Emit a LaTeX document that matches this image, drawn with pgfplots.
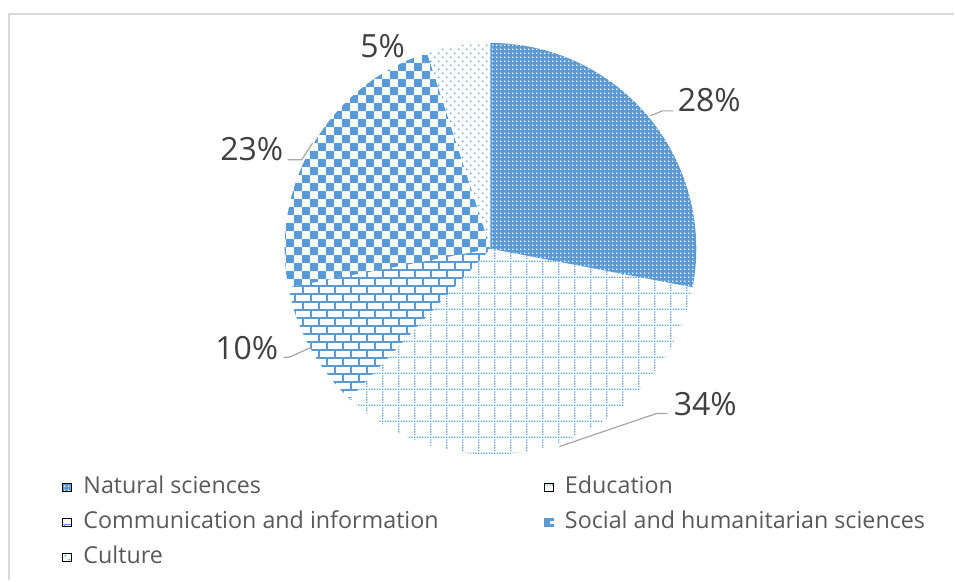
\documentclass[border=0pt]{standalone}
\usepackage{fontspec}
\setmainfont{Open Sans}
\usepackage{pgfplots}
\pgfplotsset{compat=1.18}
\usepackage{pgfplotstable}
\usetikzlibrary{patterns}

\definecolor{pblue}{HTML}{5B9BD5}
\definecolor{txt}{HTML}{404040}
\definecolor{legtxt}{HTML}{595959}
\definecolor{lead}{HTML}{A6A6A6}
\definecolor{frame}{HTML}{D9D9D9}

% --- patterns ---
\pgfdeclarepatternformonly{xwhitedots}{\pgfqpoint{0pt}{0pt}}{\pgfqpoint{4.3pt}{4.3pt}}{\pgfqpoint{4.3pt}{4.3pt}}{%
  \pgfpathrectangle{\pgfqpoint{1.2pt}{1.2pt}}{\pgfqpoint{1.6pt}{1.6pt}}\pgfusepath{fill}}
\pgfdeclarepatternformonly{xdotgrid}{\pgfqpoint{0pt}{0pt}}{\pgfqpoint{16pt}{16pt}}{\pgfqpoint{16pt}{16pt}}{%
  \foreach \k in {0,...,5}{%
    \pgfpathrectangle{\pgfpoint{\k*2.667pt+0.2pt}{0.2pt}}{\pgfqpoint{1.3pt}{1.3pt}}%
    \pgfpathrectangle{\pgfpoint{0.2pt}{\k*2.667pt+0.2pt}}{\pgfqpoint{1.3pt}{1.3pt}}%
  }\pgfusepath{fill}}
\pgfdeclarepatternformonly{xbricks}{\pgfqpoint{0pt}{0pt}}{\pgfqpoint{16pt}{16pt}}{\pgfqpoint{16pt}{16pt}}{%
  \pgfsetlinewidth{1.6pt}%
  \pgfpathmoveto{\pgfqpoint{0pt}{1pt}}\pgfpathlineto{\pgfqpoint{16pt}{1pt}}%
  \pgfpathmoveto{\pgfqpoint{0pt}{9pt}}\pgfpathlineto{\pgfqpoint{16pt}{9pt}}%
  \pgfpathmoveto{\pgfqpoint{1pt}{1pt}}\pgfpathlineto{\pgfqpoint{1pt}{9pt}}%
  \pgfpathmoveto{\pgfqpoint{9pt}{9pt}}\pgfpathlineto{\pgfqpoint{9pt}{16pt}}%
  \pgfusepath{stroke}}
\pgfdeclarepatternformonly{xchecker}{\pgfqpoint{0pt}{0pt}}{\pgfqpoint{16pt}{16pt}}{\pgfqpoint{16pt}{16pt}}{%
  \pgfpathrectangle{\pgfqpoint{0pt}{0pt}}{\pgfqpoint{8pt}{8pt}}%
  \pgfpathrectangle{\pgfqpoint{8pt}{8pt}}{\pgfqpoint{8pt}{8pt}}\pgfusepath{fill}}
\pgfdeclarepatternformonly{xsparsedots}{\pgfqpoint{0pt}{0pt}}{\pgfqpoint{8pt}{8pt}}{\pgfqpoint{8pt}{8pt}}{%
  \pgfpathrectangle{\pgfqpoint{1pt}{1pt}}{\pgfqpoint{1.5pt}{1.5pt}}%
  \pgfpathrectangle{\pgfqpoint{5pt}{5pt}}{\pgfqpoint{1.5pt}{1.5pt}}\pgfusepath{fill}}

% --- data ---
\pgfplotstableread{
name value
Natural 28
Education 34
Communication 10
Social 23
Culture 5
}\piedata

\pgfplotstablegetelem{0}{value}\of\piedata \let\vA\pgfplotsretval
\pgfplotstablegetelem{1}{value}\of\piedata \let\vB\pgfplotsretval
\pgfplotstablegetelem{2}{value}\of\piedata \let\vC\pgfplotsretval
\pgfplotstablegetelem{3}{value}\of\piedata \let\vD\pgfplotsretval
\pgfplotstablegetelem{4}{value}\of\piedata \let\vE\pgfplotsretval
\pgfmathsetmacro\aA{90}
\pgfmathsetmacro\aB{\aA-3.6*\vA}
\pgfmathsetmacro\aC{\aB-3.6*\vB}
\pgfmathsetmacro\aD{\aC-3.6*\vC}
\pgfmathsetmacro\aE{\aD-3.6*\vD}
\pgfmathsetmacro\aF{\aE-3.6*\vE}

\def\cx{491}\def\cy{332}\def\R{206bp}
\newcommand\slice[2]{(axis cs:\cx,\cy) -- ++(#1:\R) arc[start angle=#1, end angle=#2, radius=\R] -- cycle}

\begin{document}
\begin{tikzpicture}
\begin{axis}[
  scale only axis, width=955bp, height=581bp,
  xmin=0, xmax=955, ymin=0, ymax=581,
  hide axis, clip=false,
  legend columns=2,
  legend cell align=left,
  legend style={at={(axis cs:59,106)}, anchor=north west, draw=none, fill=none,
    font=\fontsize{23.3bp}{28bp}\selectfont, text=legtxt,
    row sep=13bp,
    nodes={inner sep=0pt, text height=17bp, text depth=5bp},
    /tikz/every odd column/.append style={column sep=12bp},
    /tikz/every even column/.append style={column sep=105bp}},
]
% page extent
\path (axis cs:0,0) (axis cs:955,581);
% frame
\draw[frame, line width=2bp] (axis cs:9,0) -- (axis cs:9,567) -- (axis cs:955,567);

% slices
\fill[pblue] \slice{\aA}{\aB};
\fill[pattern=xwhitedots, pattern color=white] \slice{\aA}{\aB};
\fill[pattern=xdotgrid, pattern color=pblue] \slice{\aB}{\aC};
\fill[pattern=xbricks, pattern color=pblue] \slice{\aC}{\aD};
\fill[pattern=xchecker, pattern color=pblue] \slice{\aD}{\aE};
\fill[pattern=xsparsedots, pattern color=pblue] \slice{\aE}{\aF};

% leader lines
\draw[lead, line width=1.2bp] (axis cs:651,465) -- (axis cs:663,470) -- (axis cs:674,470);
\draw[lead, line width=1.2bp] (axis cs:560,134) -- (axis cs:657,167) -- (axis cs:668,167);
\draw[lead, line width=1.2bp] (axis cs:284,223) -- (axis cs:291,224) -- (axis cs:311,233);
\draw[lead, line width=1.2bp] (axis cs:288,421) -- (axis cs:302,421) -- (axis cs:313,438);

% labels
\begin{scope}[every node/.style={text=txt, font=\fontsize{32bp}{38bp}\selectfont, inner sep=0pt}]
\node at (axis cs:710,481) {28\%};
\node at (axis cs:706,176) {34\%};
\node at (axis cs:247,233) {10\%};
\node at (axis cs:252,432) {23\%};
\node at (axis cs:383,535) {5\%};
\end{scope}

% legend
\addlegendimage{legend image code/.code={\fill[pblue] (0bp,-4bp) rectangle (9bp,4bp);\fill[pattern=xwhitedots,pattern color=white] (0bp,-4bp) rectangle (9bp,4bp);}}
\addlegendentry{Natural sciences}
\addlegendimage{legend image code/.code={\fill[pattern=xdotgrid,pattern color=pblue] (0bp,-4bp) rectangle (9bp,4bp);}}
\addlegendentry{Education}
\addlegendimage{legend image code/.code={\fill[pattern=xbricks,pattern color=pblue] (0bp,-4bp) rectangle (9bp,4bp);}}
\addlegendentry{Communication and information}
\addlegendimage{legend image code/.code={\fill[pblue] (0bp,-4bp) rectangle (9bp,4bp);\fill[white] (6bp,-1bp) rectangle (9bp,1bp);}}
\addlegendentry{Social and humanitarian sciences}
\addlegendimage{legend image code/.code={\fill[pattern=xsparsedots,pattern color=pblue] (0bp,-4bp) rectangle (9bp,4bp);}}
\addlegendentry{Culture}
\end{axis}
\end{tikzpicture}
\end{document}
